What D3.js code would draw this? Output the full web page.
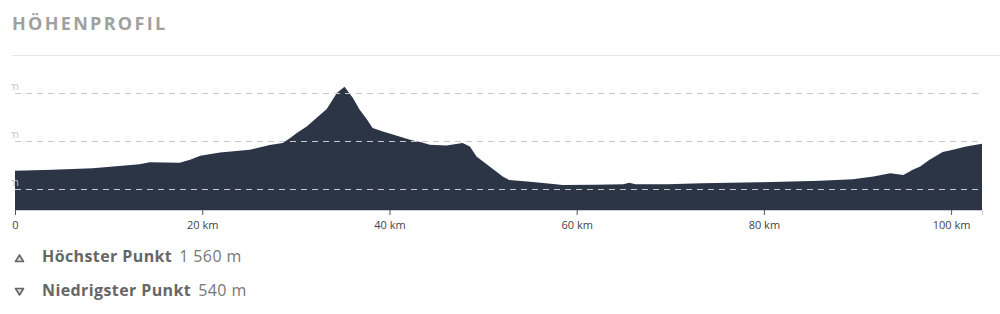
<!DOCTYPE html>
<html>
<head>
<meta charset="utf-8">
<script src="https://cdn.jsdelivr.net/npm/d3@7"></script>
<style>
  body { margin: 0; background: #fff; }
  svg { display: block; }
</style>
</head>
<body>
<div id="chart"></div>
<script>
// profile data (km, metres)
var distKm = [0, 4, 8.3, 13.3, 14.4, 17.6, 18.7, 19.8, 21.9, 25.1, 26.1, 27.2, 28.6, 29.4, 30.1, 31.2, 32.2, 33.3, 34.4, 35.2,
  36.1, 36.8, 37.6, 38.2, 39.3, 40.8, 42.2, 43.5, 44.3, 46.1, 47.8, 48.6, 49.3, 50.7, 52.1, 52.8, 55, 57.5, 58.5, 62,
  65, 65.6, 66.3, 69.7, 73.4, 79.5, 86, 89.5, 91.7, 93.5, 94.9, 95.9, 96.7, 97.7, 99.1, 100.2, 101.6, 103.3];
var elevM = [690, 700, 715, 757, 778, 772, 802, 844, 878, 906, 930, 955, 976, 1028, 1080, 1149, 1236, 1330, 1497, 1560,
  1444, 1323, 1219, 1132, 1097, 1052, 1010, 982, 958, 951, 976, 941, 836, 732, 628, 594, 576, 552, 540, 545,
  550, 565, 548, 550, 558, 569, 586, 600, 628, 663, 646, 698, 732, 802, 882, 906, 941, 969];

var xTicks = [0, 20, 40, 60, 80, 100];
var gridLevels = [500, 1000, 1500];
var gridLabels = ["500 m", "1 000 m", "1 500 m"];
var legendLabels = ["Höchster Punkt", "Niedrigster Punkt"];
var legendValues = ["1 560 m", "540 m"];

var width = 1000, height = 314;
var svg = d3.select("#chart").append("svg")
  .attr("width", width)
  .attr("height", height);

// Title + separator
svg.append("text")
  .attr("x", 12).attr("y", 30)
  .style("font-family", "'Open Sans', sans-serif")
  .style("font-weight", "700")
  .style("font-size", "18px")
  .style("letter-spacing", "2.3px")
  .style("fill", "#a0a0a0")
  .text("HÖHENPROFIL");

svg.append("line")
  .attr("x1", 12).attr("x2", 1000)
  .attr("y1", 55.5).attr("y2", 55.5)
  .style("stroke", "#e6e6e6");

var x = d3.scaleLinear().domain([0, 103.3]).range([15, 982]);
var y = d3.scaleLinear().domain([282, 1500]).range([210, 92.5]);

var data = distKm.map(function(d, i) { return {km: d, m: elevM[i]}; });

// Area
var area = d3.area()
  .x(function(d) { return x(d.km); })
  .y0(y(282))
  .y1(function(d) { return y(d.m); });

svg.append("path")
  .datum(data)
  .attr("d", area)
  .style("fill", "#2b3546");

// Gridlines
svg.selectAll(".grid")
  .data(gridLevels)
  .enter().append("line")
  .attr("class", "grid")
  .attr("x1", 15).attr("x2", 978)
  .attr("y1", function(d) { return Math.round(y(d)) + 0.5; })
  .attr("y2", function(d) { return Math.round(y(d)) + 0.5; })
  .style("stroke", "#c8c8c8")
  .style("stroke-dasharray", "6,5");

// Clipped y labels (only the unit shows, like the original)
svg.append("clipPath").attr("id", "lblclip")
  .append("rect").attr("x", 11).attr("y", 0).attr("width", 20).attr("height", 314);

svg.append("g").attr("clip-path", "url(#lblclip)")
  .selectAll("text")
  .data(gridLevels)
  .enter().append("text")
  .attr("x", 19)
  .attr("y", function(d) { return y(d) - 3; })
  .attr("text-anchor", "end")
  .style("font-family", "'Open Sans', sans-serif")
  .style("font-size", "11px")
  .style("fill", "#c4c4c4")
  .text(function(d, i) { return gridLabels[i]; });

// X axis
var xAxis = d3.axisBottom(x)
  .tickValues(xTicks)
  .tickSize(5)
  .tickPadding(6)
  .tickFormat(function(d) { return d === 0 ? "0" : d + " km"; });

var gx = svg.append("g")
  .attr("transform", "translate(0,210)")
  .call(xAxis);
gx.select(".domain").style("stroke", "#c9ccd2");
gx.selectAll(".tick line").style("stroke", "#555");
gx.selectAll(".tick text")
  .style("font-family", "'Liberation Sans Narrow', 'Open Sans', sans-serif")
  .style("font-size", "11px")
  .style("fill", "#444");

// Legend
var legend = svg.selectAll(".legend")
  .data(legendLabels)
  .enter().append("g")
  .attr("class", "legend")
  .attr("transform", function(d, i) { return "translate(0," + (262 + i * 34) + ")"; });

legend.append("path")
  .attr("d", function(d, i) {
    return i === 0 ? "M15.5,-0.5 L23.5,-0.5 L19.5,-7 Z" : "M15.5,-7.5 L23.5,-7.5 L19.5,-1 Z";
  })
  .style("fill", "#ddd")
  .style("stroke", "#666")
  .style("stroke-width", 1.6)
  .style("stroke-linejoin", "round");

legend.append("text")
  .attr("x", 42).attr("y", 0)
  .style("font-family", "'Open Sans', sans-serif")
  .style("font-size", "16px")
  .style("letter-spacing", "0.4px")
  .style("fill", "#666")
  .each(function(d, i) {
    var t = d3.select(this);
    t.append("tspan").style("font-weight", "700").text(d);
    t.append("tspan").attr("dx", 7).style("fill", "#777").text(legendValues[i]);
  });
</script>
</body>
</html>
